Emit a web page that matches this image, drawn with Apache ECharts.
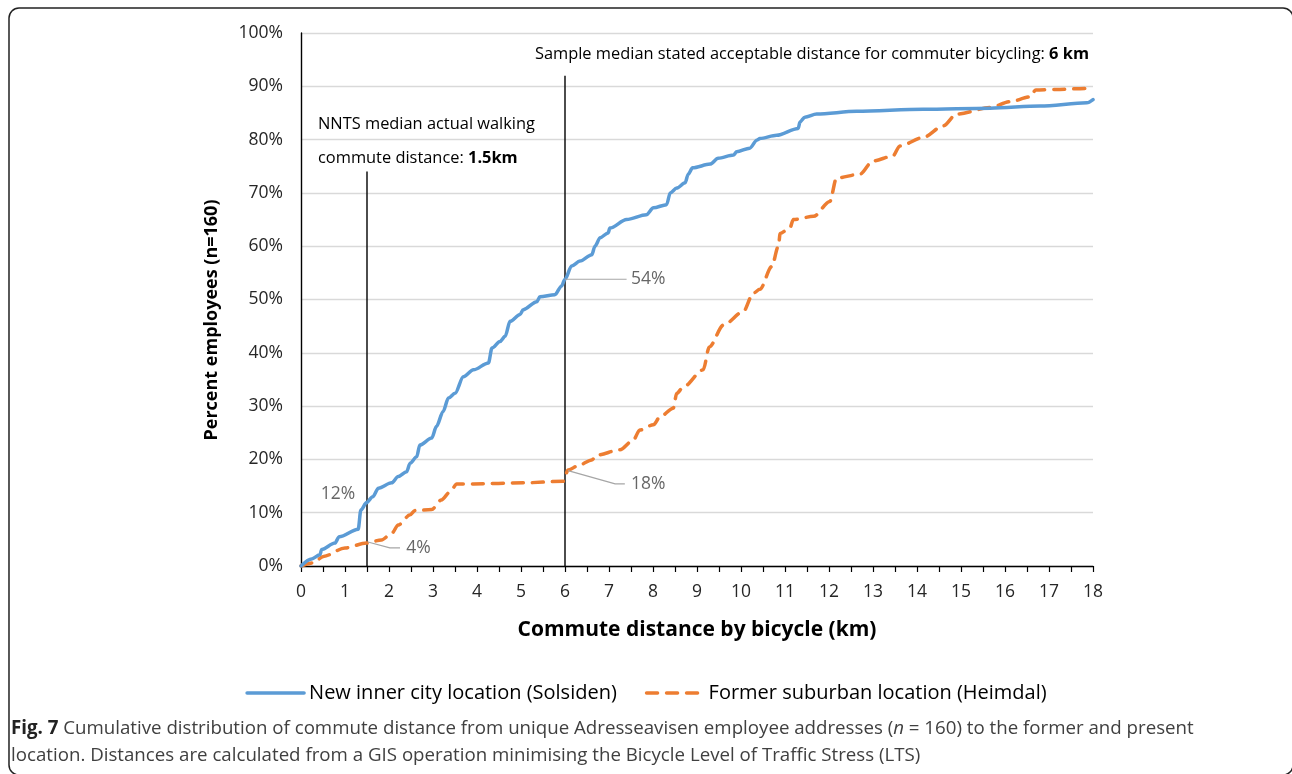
<!DOCTYPE html>
<html>
<head>
<meta charset="utf-8">
<script src="https://cdn.jsdelivr.net/npm/echarts@6/dist/echarts.min.js"></script>
<style>
html,body{margin:0;padding:0;background:#fff;}
#chart{width:1292px;height:774px;}
</style>
</head>
<body>
<div id="chart"></div>
<script>
// ---- Data ----
const solsidenKm = [0,0.24,0.43,0.47,0.77,0.87,1.30,1.36,1.49,1.63,1.76,2.06,2.21,2.40,2.48,2.63,2.70,2.97,3.08,3.23,3.35,3.50,3.69,3.92,4.26,4.34,4.52,4.64,4.75,4.98,5.05,5.36,5.43,5.77,5.92,6.0,6.15,6.34,6.61,6.68,6.80,6.98,7.02,7.40,7.85,8.01,8.31,8.39,8.54,8.73,8.80,8.90,9.30,9.48,9.83,9.90,10.20,10.36,10.43,10.81,11.30,11.34,11.45,11.72,12.63,14.14,15.66,16.80,17.86,18.0];
const solsidenPct = [0,1.3,2.1,3.1,4.3,5.5,6.9,10.5,11.9,13.0,14.6,15.6,16.8,17.7,19.3,20.5,22.7,24.0,26.2,29.0,31.5,32.4,35.5,36.8,38.1,40.9,42.1,43.1,45.9,47.2,48.1,49.6,50.5,50.9,52.5,53.8,56.3,57.2,58.4,60.0,61.6,62.5,63.4,65.0,65.9,67.2,67.8,70.0,70.9,71.9,73.5,74.7,75.4,76.5,77.1,77.7,78.4,79.9,80.2,80.8,82.1,83.3,84.2,84.8,85.3,85.7,85.9,86.3,86.9,87.5];

const heimdalKm = [0,0.28,0.51,1.0,1.49,1.83,2.06,2.21,2.48,2.59,2.97,3.19,3.39,3.54,3.92,5.05,5.96,6.07,6.34,6.61,6.72,7.25,7.55,7.70,8.01,8.16,8.46,8.54,8.69,9.14,9.28,9.60,10.05,10.28,10.43,10.70,10.85,10.89,11.11,11.19,11.65,12.02,12.17,12.70,13.0,13.45,13.61,14.14,14.60,14.90,15.66,16.11,16.57,16.70,17.16,17.86,18.0];
const heimdalPct = [0,0.6,1.8,3.4,4.3,4.9,6.1,7.7,9.6,10.4,10.6,12.4,13.9,15.4,15.4,15.6,15.9,18.0,19.0,19.9,20.8,21.8,23.6,25.5,26.5,28.0,29.6,32.4,33.6,36.8,41.1,45.2,47.7,51.2,51.9,56.2,60.0,62.4,63.4,65.0,65.6,68.4,72.8,73.5,76.0,76.9,78.8,80.4,82.6,84.8,86.0,87.1,88.0,89.3,89.4,89.6,89.6];

const seriesNames = ['New inner city location (Solsiden)', 'Former suburban location (Heimdal)'];

// reference distances (km) and the height (%) their marker lines reach
const refLineKm = [1.5, 6];
const refLineTopPct = [74, 92];

// callouts: text, leader path (km, %), label anchor (km, %)
const calloutText = ['54%', '18%', '4%', '12%'];
const calloutPath = [
  [[6.0, 53.8], [7.4, 53.8]],
  [[6.07, 17.9], [7.14, 15.4], [7.36, 15.4]],
  [[1.52, 4.5], [2.02, 3.4], [2.25, 3.4]],
  []
];
const calloutAt = [[7.5, 53.8], [7.5, 15.4], [2.39, 3.4], [0.45, 13.5]];

// ---- Chart ----
const zip = (xs, ys) => xs.map((x, i) => [x, ys[i]]);
const FONT = '"Open Sans", "Noto Sans", sans-serif';

const series = [
  {
    name: seriesNames[0], type: 'line', data: zip(solsidenKm, solsidenPct),
    symbol: 'none', smooth: 0.3, smoothMonotone: 'x', z: 5,
    lineStyle: { color: '#5b9bd5', width: 3.5, cap: 'round', join: 'round' },
    itemStyle: { color: '#5b9bd5' }
  },
  {
    name: seriesNames[1], type: 'line', data: zip(heimdalKm, heimdalPct),
    symbol: 'none', smooth: 0.3, smoothMonotone: 'x', z: 4,
    lineStyle: { color: '#ed7d31', width: 3.5, type: [11, 9], cap: 'round', join: 'round' },
    itemStyle: { color: '#ed7d31' }
  }
];

refLineKm.forEach((km, i) => {
  series.push({
    type: 'line', data: [[km, 0], [km, refLineTopPct[i]]], symbol: 'none', silent: true, z: 3,
    lineStyle: { color: '#000', width: 1.4 }
  });
});

calloutPath.forEach(p => {
  if (p.length) series.push({
    type: 'line', data: p, symbol: 'none', silent: true, z: 6,
    lineStyle: { color: '#a6a6a6', width: 1.2 }
  });
});

series.push({
  type: 'scatter', symbolSize: 0, silent: true, z: 7,
  data: calloutAt.map((p, i) => ({ value: p, name: calloutText[i] })),
  label: {
    show: true, position: 'right', distance: 0, formatter: '{b}',
    color: '#404040', fontSize: 17.5, fontFamily: FONT
  }
});

const chart = echarts.init(document.getElementById('chart'), null, { renderer: 'canvas' });
chart.setOption({
  animation: false,
  backgroundColor: '#fff',
  grid: { left: 301, right: 199, top: 33, bottom: 208, containLabel: false },
  xAxis: {
    type: 'value', min: 0, max: 18, interval: 1,
    name: 'Commute distance by bicycle (km)', nameLocation: 'middle', nameGap: 54,
    nameTextStyle: { fontSize: 21, fontWeight: 'bold', color: '#000', fontFamily: FONT },
    axisLine: { show: true, onZero: false, lineStyle: { color: '#000', width: 1.4 } },
    axisTick: { show: true, length: 6, lineStyle: { color: '#000', width: 1.2 } },
    minorTick: { show: true, splitNumber: 2, length: 6, lineStyle: { color: '#000', width: 1.2 } },
    axisLabel: { fontSize: 17.5, color: '#262626', margin: 17, fontFamily: FONT },
    splitLine: { show: false }
  },
  yAxis: {
    type: 'value', min: 0, max: 100, interval: 10,
    axisLine: { show: true, lineStyle: { color: '#000', width: 1.4 } },
    axisTick: { show: false },
    axisLabel: { fontSize: 17.5, color: '#262626', margin: 18, formatter: '{value}%', fontFamily: FONT },
    splitLine: { show: true, lineStyle: { color: '#d9d9d9', width: 1.3 } }
  },
  legend: {
    data: seriesNames, left: 'center', top: 678, itemWidth: 57, itemHeight: 14, itemGap: 28,
    itemStyle: { opacity: 0, color: 'transparent', borderWidth: 0 },
    lineStyle: { width: 3.5 },
    textStyle: { fontSize: 20, color: '#000', fontFamily: FONT }
  },
  graphic: [
    {
      type: 'rect', silent: true,
      shape: { x: 9, y: 8, width: 1284, height: 767, r: 10 },
      style: { fill: 'none', stroke: '#222', lineWidth: 1.5 }
    },
    {
      type: 'text', silent: true, x: 212, y: 320, rotation: Math.PI / 2,
      style: {
        text: 'Percent employees (n=160)', font: 'bold 18px ' + FONT, fill: '#000',
        align: 'center', verticalAlign: 'middle'
      }
    },
    {
      type: 'text', left: 318, top: 116, silent: true,
      style: { text: 'NNTS median actual walking', font: '16.4px ' + FONT, fill: '#000' }
    },
    {
      type: 'text', left: 318, top: 150, silent: true,
      style: {
        text: 'commute distance: {b|1.5km}', font: '16.4px ' + FONT, fill: '#000',
        rich: { b: { fontWeight: 'bold', fontSize: 16.4, fontFamily: FONT, fill: '#000' } }
      }
    },
    {
      type: 'text', right: 1292 - 1089, top: 46, silent: true,
      style: {
        text: 'Sample median stated acceptable distance for commuter bicycling: {b|6 km}',
        font: '16.4px ' + FONT, fill: '#000',
        rich: { b: { fontWeight: 'bold', fontSize: 16.4, fontFamily: FONT, fill: '#000' } }
      }
    },
    {
      type: 'text', left: 11, top: 719, silent: true,
      style: {
        text: '{b|Fig. 7} Cumulative distribution of commute distance from unique Adresseavisen employee addresses ({i|n} = 160) to the former and present',
        font: '18.7px ' + FONT, fill: '#404040',
        rich: {
          b: { fontWeight: 'bold', fontSize: 18.7, fontFamily: FONT, fill: '#222' },
          i: { fontStyle: 'italic', fontSize: 18.7, fontFamily: FONT, fill: '#404040' }
        }
      }
    },
    {
      type: 'text', left: 11, top: 746, silent: true,
      style: {
        text: 'location. Distances are calculated from a GIS operation minimising the Bicycle Level of Traffic Stress (LTS)',
        font: '18.7px ' + FONT, fill: '#404040'
      }
    }
  ],
  series: series
});
</script>
</body>
</html>
